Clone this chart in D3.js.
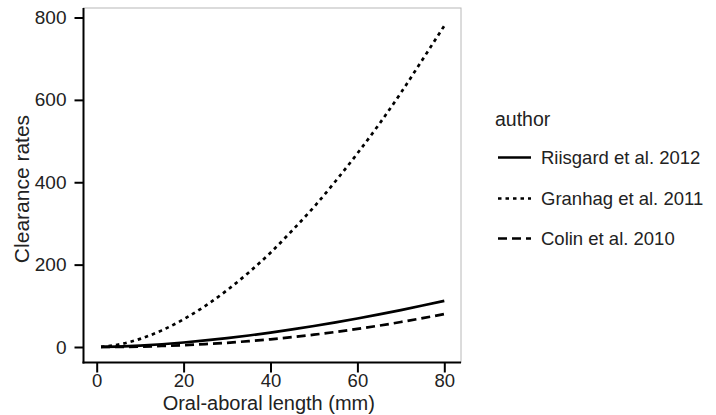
<!DOCTYPE html>
<html>
<head>
<meta charset="utf-8">
<script src="https://cdn.jsdelivr.net/npm/d3@7"></script>
<style>
html,body{margin:0;padding:0;background:#fff;}
svg{display:block;font-family:"Liberation Sans",Arial,sans-serif;}
</style>
</head>
<body>
<svg id="chart" width="716" height="415"></svg>
<script>
// Data
const lengths = [1, 5, 10, 15, 20, 25, 30, 35, 40, 45, 50, 55, 60, 65, 70, 75, 80];
const riisgard = [0.07, 1.1, 3.4, 6.7, 10.9, 15.9, 21.6, 28, 35, 42.7, 51, 59.8, 69.2, 79.2, 89.7, 100.7, 112];
const granhag = [0.34, 5.8, 19.7, 40.4, 67.3, 99.9, 137.9, 181, 229, 283, 340, 403, 470, 541, 617, 698, 780];
const colin = [0.01, 0.24, 1.0, 2.4, 4.4, 7.0, 10.2, 14.2, 18.7, 24.0, 29.9, 36.5, 43.9, 51.9, 60.7, 70.1, 80];
const seriesNames = ["Riisgard et al. 2012", "Granhag et al. 2011", "Colin et al. 2010"];
const xTicks = [0, 20, 40, 60, 80];
const yTicks = [0, 200, 400, 600, 800];

const svg = d3.select("#chart");
const x = d3.scaleLinear().domain([0, 80]).range([96.7, 444.3]);
const y = d3.scaleLinear().domain([0, 800]).range([347, 17.5]);

const plotL = 83.5, plotR = 461, plotT = 8, plotB = 362.5;

// plot region outline (top/right light)
svg.append("rect").attr("x", plotL).attr("y", plotT)
  .attr("width", plotR - plotL).attr("height", plotB - plotT)
  .attr("fill", "none").attr("stroke", "#b8b8b8").attr("stroke-width", 1);

// Y axis
const yAxis = svg.append("g").attr("transform", `translate(${plotL},0)`)
  .call(d3.axisLeft(y).tickValues(yTicks).tickSize(9).tickPadding(8).tickSizeOuter(0));
yAxis.select(".domain").remove();
yAxis.append("line").attr("x1", 0).attr("x2", 0).attr("y1", plotT).attr("y2", plotB + 1)
  .attr("stroke", "#000").attr("stroke-width", 2);
yAxis.selectAll(".tick line").attr("stroke", "#000").attr("stroke-width", 2);
yAxis.selectAll(".tick text").attr("font-size", "19px").attr("fill", "#222")
  .attr("font-family", "Liberation Sans, Arial, sans-serif");

// X axis
const xAxis = svg.append("g").attr("transform", `translate(0,${plotB})`)
  .call(d3.axisBottom(x).tickValues(xTicks).tickSize(10).tickPadding(1).tickSizeOuter(0));
xAxis.select(".domain").remove();
xAxis.append("line").attr("x1", plotL - 1).attr("x2", plotR).attr("y1", 0).attr("y2", 0)
  .attr("stroke", "#000").attr("stroke-width", 2);
xAxis.selectAll(".tick line").attr("stroke", "#000").attr("stroke-width", 2);
xAxis.selectAll(".tick text").attr("font-size", "18.5px").attr("fill", "#222")
  .attr("font-family", "Liberation Sans, Arial, sans-serif");

// Axis titles
svg.append("text").attr("x", 268.8).attr("y", 409.5).attr("text-anchor", "middle")
  .attr("font-size", "20px").attr("fill", "#222").text("Oral-aboral length (mm)");
svg.append("text").attr("transform", "translate(29,189) rotate(-90)").attr("text-anchor", "middle")
  .attr("font-size", "21px").attr("fill", "#222").text("Clearance rates");

// Lines
const styles = [
  {data: riisgard, dash: null},
  {data: granhag, dash: "3.5,4"},
  {data: colin, dash: "9,5"}
];
const line = d3.line().x(d => x(d[0])).y(d => y(d[1])).curve(d3.curveMonotoneX);
styles.forEach(s => {
  svg.append("path").datum(lengths.map((l, i) => [l, s.data[i]]))
    .attr("d", line).attr("fill", "none").attr("stroke", "#000")
    .attr("stroke-width", 2.7).attr("stroke-dasharray", s.dash);
});

// Legend
svg.append("text").attr("x", 495).attr("y", 126).attr("font-size", "19.5px").attr("fill", "#222").text("author");
const legY = [157.5, 198.5, 238.5];
seriesNames.forEach((n, i) => {
  svg.append("line").attr("x1", 498).attr("x2", 531).attr("y1", legY[i]).attr("y2", legY[i])
    .attr("stroke", "#000").attr("stroke-width", 2.7).attr("stroke-dasharray", styles[i].dash);
  svg.append("text").attr("x", 541).attr("y", legY[i] + 6.5).attr("font-size", "18.5px")
    .attr("fill", "#222").text(n);
});
</script>
</body>
</html>
